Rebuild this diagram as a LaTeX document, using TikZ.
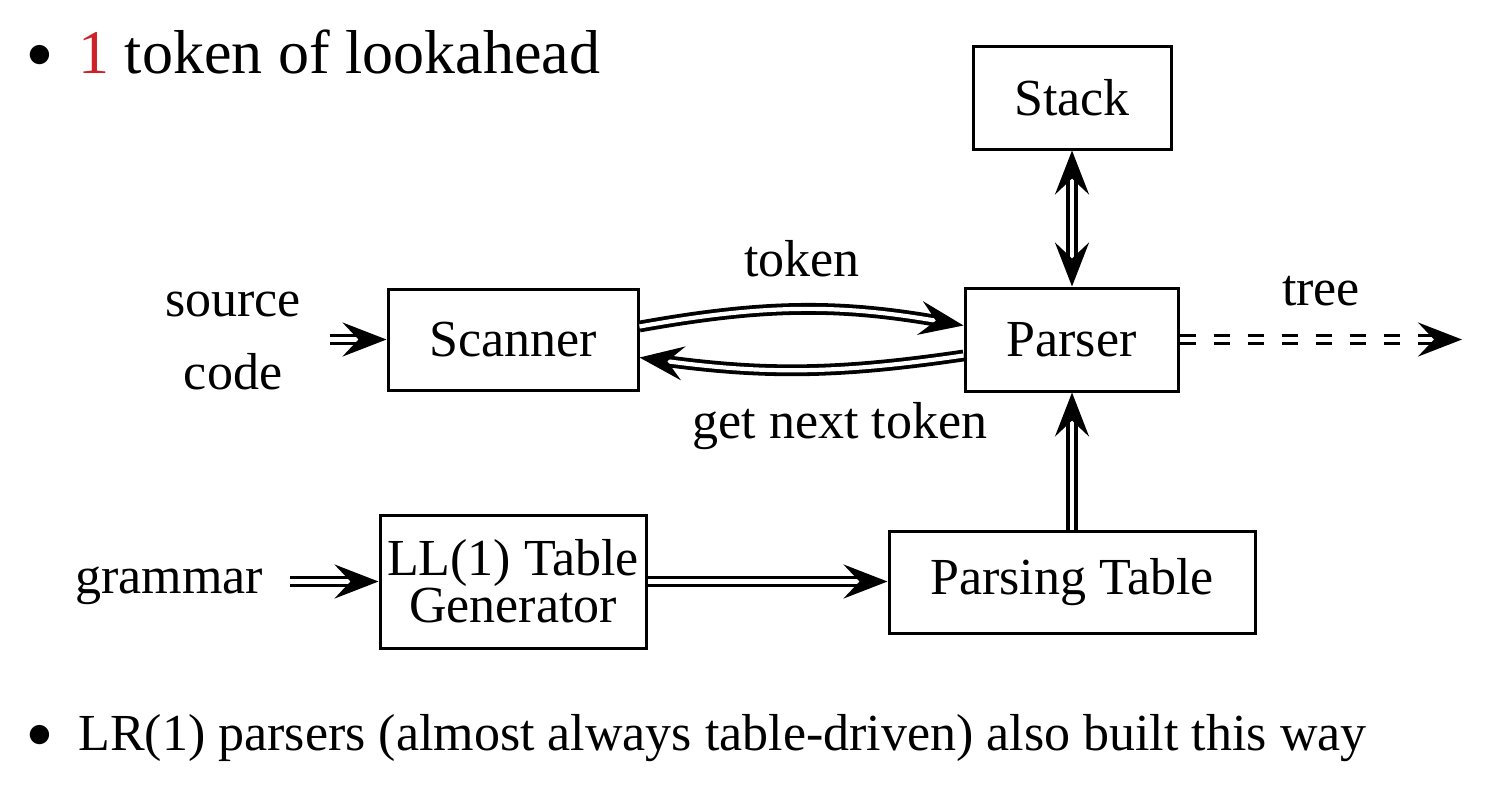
\documentclass[tikz,border=0pt]{standalone}
\usepackage{fontspec}
\setmainfont{Liberation Serif}
\usetikzlibrary{arrows.meta}
\definecolor{myred}{RGB}{205,35,40}
\begin{document}
\begin{tikzpicture}[x=0.5pt,y=-0.5pt,
  >={Stealth[length=22pt,width=17pt,inset=8pt]},
  box/.style={draw, line width=1.5pt, inner sep=0pt, font=\fontsize{26}{30}\selectfont, align=center},
  lbl/.style={font=\fontsize{26}{30}\selectfont, inner sep=0pt, anchor=base},
  dbl/.style={double, line width=1.9pt, double distance=2.1pt, ->},
]
\useasboundingbox (0,0) rectangle (1498,784);

% bullets
\node[inner sep=0pt, font=\fontsize{38}{42}\selectfont] (b1) at (40,56) {$\bullet$};
\node[anchor=base west, inner sep=0pt, font=\fontsize{31}{36}\selectfont] (t1) at (78,73) {\textcolor{myred}{1} token of lookahead};
\node[inner sep=0pt, font=\fontsize{31}{36}\selectfont] (b2) at (40,736) {$\bullet$};
\node[anchor=base west, inner sep=0pt, font=\fontsize{26}{30}\selectfont] (t2) at (78,750) {LR(1) parsers (almost always table-driven) also built this way};

% boxes
\node[box, minimum width=99pt, minimum height=51.5pt] (stack) at (1072,97.5) {Stack};
\node[box, minimum width=125pt, minimum height=50.5pt] (scanner) at (513,339.5) {Scanner};
\node[box, minimum width=106.5pt, minimum height=51.5pt] (parser) at (1071.5,339.5) {Parser};
\node[box, minimum width=133pt, minimum height=66.5pt, font=\fontsize{26}{23.5}\selectfont] (gen) at (513,581.5) {LL(1) Table\\Generator};
\node[box, minimum width=183pt, minimum height=51pt] (pt) at (1072,582) {Parsing Table};

% labels
\node[lbl] (source) at (233,316) {source};
\node[lbl] (code) at (233,389) {code};
\node[lbl] (token) at (802,276) {token};
\node[lbl] (gnt) at (840,438) {get next token};
\node[lbl] (tree) at (1321,305) {tree};
\node[lbl] (grammar) at (169,593) {grammar};

% connectors
\coordinate (srcend) at (330,339.5);
\coordinate (gramend) at (290,581.5);
\coordinate (treeend) at (1462,339.5);
\draw[dbl] (srcend) -- (scanner.west);
\draw[dbl] ([yshift=6.5pt]scanner.east) to[bend left=10] ([yshift=7pt]parser.west);
\draw[dbl] ([yshift=-8pt]parser.west) to[bend left=8] ([yshift=-9pt]scanner.east);
\draw[dbl, <->] (stack.south) -- (stack.south |- parser.north);
\draw[dbl] (pt.north) -- (pt.north |- parser.south);
\draw[dbl] (gramend) -- (gen.west);
\draw[dbl] (gen.east) -- (gen.east -| pt.west);
\draw[dbl, dash pattern=on 8pt off 9pt] (parser.east) -- (treeend);
\end{tikzpicture}
\end{document}
